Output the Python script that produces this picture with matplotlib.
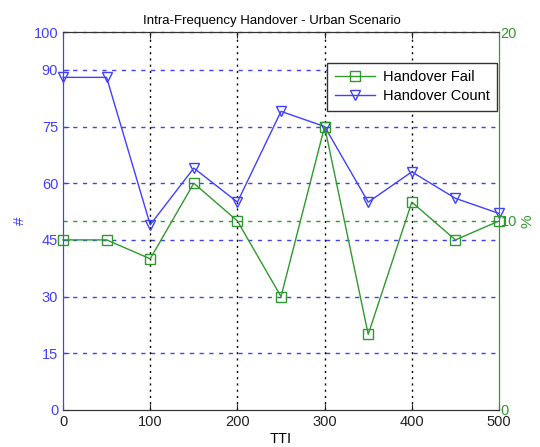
import matplotlib
matplotlib.use("Agg")
import matplotlib.pyplot as plt

plt.rcParams['font.family'] = ['Liberation Sans', 'DejaVu Sans']

tti = [0, 50, 100, 150, 200, 250, 300, 350, 400, 450, 500]
handover_count = [88, 88, 49, 64, 55, 79, 75, 55, 63, 56, 52]
handover_fail = [9, 9, 8, 12, 10, 6, 15, 4, 11, 9, 10]

left_ticks = [0, 15, 30, 45, 60, 75, 90, 100]
right_ticks = [0, 10, 20]
x_ticks = [0, 100, 200, 300, 400, 500]

blue = '#4040ff'
green = '#2f9a2f'

fig = plt.figure(figsize=(5.4, 4.47), dpi=100)
ax1 = fig.add_axes([0.1167, 0.0828, 0.8074, 0.8456])
ax2 = ax1.twinx()

ax1.set_xlim(0, 500)
ax1.set_ylim(0, 100)
ax2.set_ylim(0, 20)
ax1.set_xticks(x_ticks)
ax1.set_yticks(left_ticks)
ax2.set_yticks(right_ticks)

# grids
for t in left_ticks[1:-1]:
    ax1.axhline(t, color=blue, linestyle=(0, (3, 4)), linewidth=1.0, zorder=1)
for t in x_ticks[1:-1]:
    ax1.axvline(t, color='black', linestyle=(0, (1.5, 3)), linewidth=1.0, zorder=1)
ax2.axhline(10, color=green, linestyle=(0, (3, 4)), linewidth=1.0, zorder=1)
ax2.axhline(20, color=green, linestyle=(0, (3, 4)), linewidth=1.0, zorder=1, clip_on=False)

l_count, = ax1.plot(tti, handover_count, color=blue, marker='v', markersize=7,
                    markerfacecolor='none', markeredgecolor=blue, linewidth=1.0,
                    label='Handover Count', clip_on=False, zorder=3)
l_fail, = ax2.plot(tti, handover_fail, color=green, marker='s', markersize=7,
                   markerfacecolor='none', markeredgecolor=green, linewidth=1.0,
                   label='Handover Fail', clip_on=False, zorder=3)

# spines
ax1.spines['left'].set_color(blue)
ax2.spines['left'].set_color(blue)
ax2.spines['right'].set_color(green)
ax1.spines['right'].set_color(green)
for a in (ax1, ax2):
    a.spines['top'].set_color('#333333')
    a.spines['bottom'].set_color('#333333')

ax1.tick_params(axis='y', colors=blue, direction='in', labelsize=10.5, length=4)
ax1.tick_params(axis='x', colors='#222222', direction='in', labelsize=10.5, length=4,
                top=True)
ax2.tick_params(axis='y', colors=green, direction='in', labelsize=10.5, length=4, pad=1)

ax1.set_ylabel('#', color=blue, fontsize=11, labelpad=5)
ax2.set_ylabel('%', color=green, fontsize=11, labelpad=3)
ax1.set_xlabel('TTI', fontsize=10.5, labelpad=2)
ax1.set_title('Intra-Frequency Handover - Urban Scenario', fontsize=9.5, pad=6, x=0.48)

leg = ax2.legend(handles=[l_fail, l_count], loc='upper right',
                 bbox_to_anchor=(0.995, 0.918), borderaxespad=0, fontsize=10.5,
                 fancybox=False, framealpha=1, edgecolor='#333333', handlelength=2.8,
                 borderpad=0.5, labelspacing=0.35, handletextpad=0.5)
leg.get_frame().set_linewidth(1.0)

fig.savefig('out.png', dpi=100)
